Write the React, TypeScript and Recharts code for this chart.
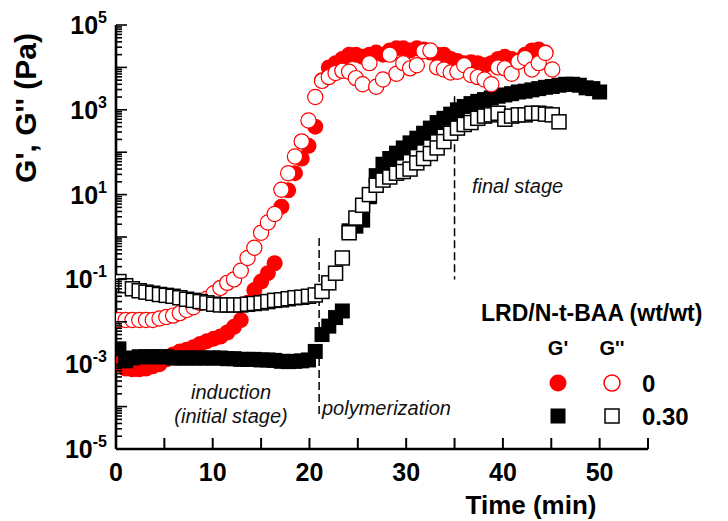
import { ScatterChart, Scatter, XAxis, YAxis, ReferenceLine } from "recharts";

const FONT = "'Liberation Sans', Arial, Helvetica, sans-serif";

// measurement times (min), shared by both samples
const time = [
  0.3, 1.0, 1.7, 2.4, 3.1, 3.8, 4.5, 5.2, 5.9, 6.6,
  7.3, 8.0, 8.7, 9.4, 10.1, 10.8, 11.5, 12.2, 12.9, 13.6,
  14.3, 15.0, 15.7, 16.4, 17.1, 17.8, 18.5, 19.2, 19.9, 20.6,
  21.3, 22.0, 22.7, 23.4, 24.1, 24.8, 25.5, 26.2, 26.9, 27.6,
  28.3, 29.0, 29.7, 30.4, 31.1, 31.8, 32.5, 33.2, 33.9, 34.6,
  35.3, 36.0, 36.7, 37.4, 38.1, 38.8, 39.5, 40.2, 40.9, 41.6,
  42.3, 43.0, 43.7, 44.4, 45.1, 45.8, 46.5, 47.2, 47.9, 48.6,
  49.3, 50.0,
];

// LRD/N-t-BAA = 0 : G' (Pa)
const storage0 = [
  1.0e-3, 7.9e-4, 7.6e-4, 7.6e-4, 7.9e-4, 8.9e-4, 1.0e-3, 1.3e-3, 1.7e-3, 2.0e-3,
  2.2e-3, 2.5e-3, 3.0e-3, 3.5e-3, 4.0e-3, 4.5e-3, 5.6e-3, 7.6e-3, 1.1e-2, 2.8e-2,
  5.6e-2, 8.9e-2, 0.14, 0.24, 5.2, 12.6, 32, 71, 141, 400,
  5000, 10000, 12600, 15800, 20000, 20000, 17800, 20000, 22400, 20000,
  25100, 28200, 28200, 25100, 28200, 26300, 22400, 20000, 20000, 15800,
  14100, 12600, 13200, 12600, 11200, 12600, 15800, 17800, 15800, 14100,
  20000, 25100, 26300, 22400,
];

// LRD/N-t-BAA = 0 : G'' (Pa)
const loss0 = [
  1.1e-2, 1.1e-2, 1.1e-2, 1.1e-2, 1.1e-2, 1.1e-2, 1.2e-2, 1.3e-2, 1.4e-2, 1.6e-2,
  1.9e-2, 2.2e-2, 2.8e-2, 3.5e-2, 4.7e-2, 6.3e-2, 8.3e-2, 0.1, 0.16, 0.32,
  0.56, 1.26, 2.2, 3.5, 13, 32, 79, 180, 560, 2000,
  4800, 5900, 7400, 8300, 7900, 5600, 4000, 12600, 3500, 5200,
  20000, 7100, 12600, 9500, 11200, 24000, 25000, 10000, 8900, 7600,
  7900, 11200, 6600, 5900, 5200, 4000, 10000, 9500, 7100, 13500,
  16600, 8900, 12600, 21900, 8900,
];

// LRD/N-t-BAA = 0.30 : G' (Pa)
const storage30 = [
  2.3e-3, 1.2e-3, 1.4e-3, 1.5e-3, 1.5e-3, 1.5e-3, 1.5e-3, 1.5e-3, 1.4e-3, 1.4e-3,
  1.4e-3, 1.4e-3, 1.4e-3, 1.4e-3, 1.4e-3, 1.4e-3, 1.35e-3, 1.35e-3, 1.3e-3, 1.3e-3,
  1.3e-3, 1.26e-3, 1.26e-3, 1.23e-3, 1.17e-3, 1.15e-3, 1.17e-3, 1.2e-3, 1.26e-3, 2.0e-3,
  5.0e-3, 7.9e-3, 1.26e-2, 1.8e-2, 1.4, 1.8, 2.5, 8.9, 28, 52,
  71, 95, 126, 166, 214, 280, 370, 500, 630, 790,
  1000, 1200, 1400, 1580, 1740, 1900, 2090, 2240, 2400, 2630,
  2750, 2950, 3160, 3390, 3550, 3800, 4000, 4000, 3800, 3300,
  3160, 2630,
];

// LRD/N-t-BAA = 0.30 : G'' (Pa)
const loss30 = [
  8.9e-2, 7.1e-2, 6.0e-2, 5.4e-2, 5.0e-2, 4.7e-2, 4.4e-2, 4.2e-2, 4.0e-2, 3.7e-2,
  3.4e-2, 3.2e-2, 3.0e-2, 2.8e-2, 2.6e-2, 2.5e-2, 2.5e-2, 2.5e-2, 2.5e-2, 2.6e-2,
  2.7e-2, 2.8e-2, 3.0e-2, 3.2e-2, 3.3e-2, 3.5e-2, 3.7e-2, 3.8e-2, 4.0e-2, 4.3e-2,
  5.2e-2, 8.3e-2, 0.14, 0.32, 1.26, 2.8, 5.6, 10, 16.6, 22,
  26, 32, 35, 40, 56, 71, 93, 126, 178, 280,
  370, 450, 500, 630, 710, 760, 830, 600, 710, 760,
  760, 830, 830, 790, 760, 520,
];

const xTicks = [0, 5, 10, 15, 20, 25, 30, 35, 40, 45, 50, 55];
const xLabels = [0, 10, 20, 30, 40, 50];
const yLabelExps = [-5, -3, -1, 1, 3, 5];

// stage boundaries (dashed lines): time, from, to
const stageLines = [
  { t: 21.0, top: 0.95, bottom: 5.6e-5 },
  { t: 35.0, top: 2100, bottom: 0.1 },
];

const yTicks: number[] = [];
for (let e = -5; e < 5; e++) {
  for (let m = 1; m < 10; m++) yTicks.push(Number((m * Math.pow(10, e)).toPrecision(3)));
}
yTicks.push(1e5);

const toPoints = (vals: number[]) => vals.map((g, i) => ({ t: time[i], g }));

const FilledCircle = (p: any) => <circle cx={p.cx} cy={p.cy} r={8} fill="#ff0000" />;
const OpenCircle = (p: any) => (
  <circle cx={p.cx} cy={p.cy} r={7.6} fill="#fff" stroke="#ff0000" strokeWidth={1.2} />
);
const FilledSquare = (p: any) => (
  <rect x={p.cx - 7.5} y={p.cy - 7.5} width={15} height={15} fill="#000" />
);
const OpenSquare = (p: any) => (
  <rect x={p.cx - 7} y={p.cy - 7} width={14} height={14} fill="#fff" stroke="#000" strokeWidth={1.5} />
);

const XTick = (props: any) => {
  const { x, y, payload } = props;
  const v = payload.value;
  return (
    <g>
      <line x1={x} y1={y} x2={x} y2={y - 11} stroke="#000" strokeWidth={2} />
      {xLabels.includes(v) && (
        <text x={x} y={y + 32} textAnchor="middle" fontFamily={FONT} fontWeight="bold" fontSize={25} fill="#000">
          {v}
        </text>
      )}
    </g>
  );
};

const YTick = (props: any) => {
  const { x, y, payload } = props;
  const v = payload.value;
  const e = Math.round(Math.log10(v));
  const major = Math.abs(v / Math.pow(10, e) - 1) < 1e-6;
  return (
    <g>
      <line x1={x} y1={y} x2={x + (major ? 11 : 6)} y2={y} stroke="#000" strokeWidth={1.6} />
      {major && yLabelExps.includes(e) && (
        <text x={x - 9} y={y + 9} textAnchor="end" fontFamily={FONT} fontWeight="bold" fontSize={25} fill="#000">
          10
          <tspan dy={-11} fontSize={16}>{e}</tspan>
        </text>
      )}
    </g>
  );
};

export default function App() {
  return (
    <div style={{ position: "relative", width: 728, height: 521, background: "#fff" }}>
      <style>{`body{margin:0}`}</style>
      <ScatterChart width={728} height={521} margin={{ top: 25, right: 80, bottom: 0, left: 0 }}>
        <XAxis
          type="number"
          dataKey="t"
          domain={[0, 55]}
          ticks={xTicks}
          interval={0}
          allowDataOverflow
          height={72}
          tickSize={0}
          tickMargin={0}
          tickLine={false}
          axisLine={{ stroke: "#000", strokeWidth: 2.6 }}
          tick={<XTick />}
        />
        <YAxis
          type="number"
          dataKey="g"
          scale="log"
          domain={[1e-5, 1e5]}
          ticks={yTicks}
          interval={0}
          allowDataOverflow
          width={116}
          tickSize={0}
          tickMargin={0}
          tickLine={false}
          axisLine={{ stroke: "#000", strokeWidth: 2.6 }}
          tick={<YTick />}
        />
        {stageLines.map((s) => (
          <ReferenceLine
            key={s.t}
            segment={[{ x: s.t, y: s.top }, { x: s.t, y: s.bottom }]}
            stroke="#000"
            strokeWidth={1.5}
            strokeDasharray="8 4"
          />
        ))}
        <Scatter data={toPoints(storage0)} shape={FilledCircle} isAnimationActive={false} />
        <Scatter data={toPoints(storage30)} shape={FilledSquare} isAnimationActive={false} />
        <Scatter data={toPoints(loss0)} shape={OpenCircle} isAnimationActive={false} />
        <Scatter data={toPoints(loss30)} shape={OpenSquare} isAnimationActive={false} />
      </ScatterChart>

      <svg width={728} height={521} style={{ position: "absolute", left: 0, top: 0, pointerEvents: "none" }}>
        <g fontFamily={FONT} fill="#000">
          <text
            transform="translate(36,108) rotate(-90)"
            textAnchor="middle"
            fontWeight="bold"
            fontSize={30}
          >
            G', G'' (Pa)
          </text>
          <text x={531} y={514} textAnchor="middle" fontWeight="bold" fontSize={26}>
            Time (min)
          </text>

          <text x={231} y={399} textAnchor="middle" fontStyle="italic" fontSize={20} fill="#111">
            induction
          </text>
          <text x={231} y={423} textAnchor="middle" fontStyle="italic" fontSize={20} fill="#111">
            (initial stage)
          </text>
          <text x={322} y={415} fontStyle="italic" fontSize={20} fill="#111">
            polymerization
          </text>
          <text x={472} y={193} fontStyle="italic" fontSize={20} fill="#111">
            final stage
          </text>

          <text x={481} y={321} fontWeight="bold" fontSize={23}>
            LRD/N-t-BAA (wt/wt)
          </text>
          <text x={558} y={355} textAnchor="middle" fontWeight="bold" fontSize={20}>
            G'
          </text>
          <text x={612} y={355} textAnchor="middle" fontWeight="bold" fontSize={20}>
            G''
          </text>
          <circle cx={558} cy={383} r={8.5} fill="#ff0000" />
          <circle cx={612} cy={383} r={8} fill="#fff" stroke="#ff0000" strokeWidth={1.5} />
          <text x={642} y={392} fontWeight="bold" fontSize={24}>
            0
          </text>
          <rect x={550.5} y={408.5} width={15} height={15} fill="#000" />
          <rect x={605} y={409} width={14} height={14} fill="#fff" stroke="#000" strokeWidth={1.5} />
          <text x={642} y={425} fontWeight="bold" fontSize={24}>
            0.30
          </text>
        </g>
      </svg>
    </div>
  );
}
